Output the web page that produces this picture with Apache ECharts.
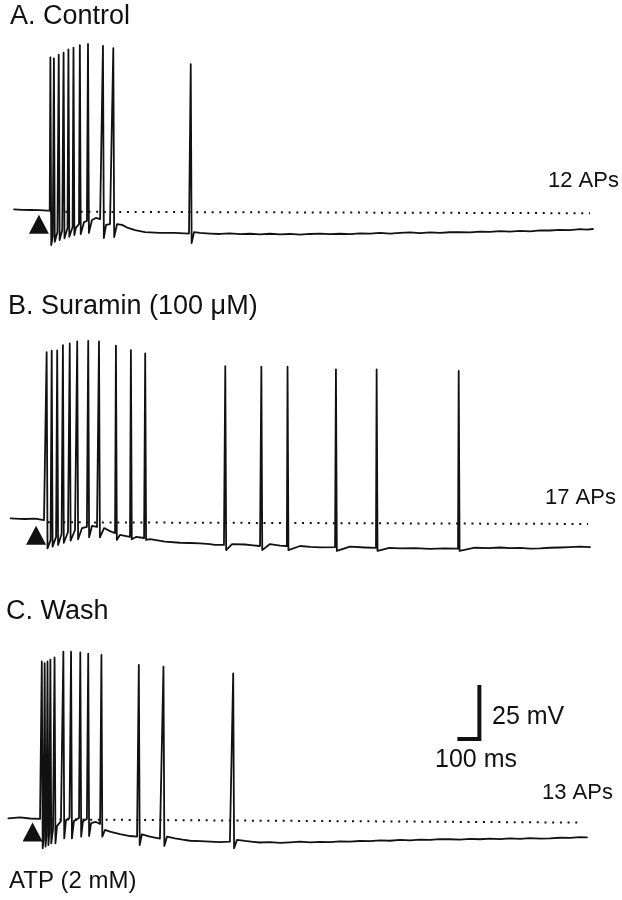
<!DOCTYPE html>
<html>
<head>
<meta charset="utf-8">
<script src="https://cdn.jsdelivr.net/npm/echarts@6/dist/echarts.min.js"></script>
<style>
html,body{margin:0;padding:0;background:#fff;}
#chart{width:622px;height:900px;}
</style>
</head>
<body>
<div id="chart"></div>
<script>
// ---------- DATA (time in ms, membrane potential in mV) ----------
const panelTitles = ['A. Control', 'B. Suramin (100 \u03bcM)', 'C. Wash'];
const apCountLabels = ['12 APs', '17 APs', '13 APs'];
const stimulusLabel = 'ATP (2 mM)';
const scaleBarLabels = ['25 mV', '100 ms'];

// Panel A
const spikeTimesA = [229, 245, 267, 289, 311, 334, 363, 400, 468, 515, 867];
const spikePeaksA = [10.7, 10.2, 11.9, 12.9, 14.4, 15.2, 16.3, 16.9, 16.0, 14.9, 7.5];
const spikeTroughsA = [-76.2, -74.7, -73.9, -73.1, -72.4, -71.6, -71.1, -70.6, -73.0, -72.5, -75.3];
const baseA = [
  [64, -59.7], [100, -59.9], [140, -60.0], [180, -60.1], [215, -60.3], [226, -60.3],
  [240, -72.0], [261, -70.2], [283, -69.3], [307, -68.3], [330, -67.9], [345, -68.3], [359, -66.5],
  [382, -65.6], [395, -65.1], [418, -64.6], [436, -63.7], [455, -64.2], [464, -64.6],
  [482, -66.9], [500, -66.5], [509, -66.5], [532, -66.5], [555, -66.9], [582, -68.3], [614, -69.3],
  [659, -70.2], [727, -70.6], [795, -70.6], [859, -70.9], [882, -70.2],
  [909, -70.6], [955, -70.9], [1000, -71.1], [1045, -70.8], [1091, -71.2], [1136, -71.0], [1182, -71.3],
  [1227, -71.0], [1273, -71.3], [1318, -71.1], [1364, -71.4], [1409, -71.1], [1455, -70.9], [1500, -71.2],
  [1545, -71.0], [1591, -71.2], [1636, -70.8], [1682, -70.9], [1727, -70.6], [1773, -70.9], [1818, -70.6],
  [1864, -70.4], [1909, -70.7], [1955, -70.4], [2000, -70.6], [2045, -70.3], [2091, -70.2], [2136, -70.4],
  [2182, -70.0], [2227, -70.1], [2273, -69.8], [2318, -70.0], [2364, -69.7], [2409, -69.9], [2455, -69.4],
  [2500, -69.5], [2545, -69.2], [2591, -69.3], [2636, -68.9], [2668, -69.1], [2695, -68.8]
];
const restLineA = [[227, -60.8], [2682, -61.5]];
const stimA = [[177, -66.6]];

// Panel B
const spikeTimesB = [212, 235, 260, 286, 317, 351, 401, 450, 527, 595, 660, 1024, 1188, 1307, 1527, 1712, 2085];
const spikePeaksB = [17.3, 17.9, 18.1, 20.5, 21.3, 22.2, 22.5, 22.2, 20.3, 18.2, 16.7, 10.8, 10.5, 10.5, 9.3, 9.3, 8.6];
const spikeTroughsB = [-73.6, -72.8, -72.0, -71.0, -70.0, -69.4, -68.5, -68.5, -69.7, -69.4, -69.7, -74.4, -74.4, -74.4, -74.8, -74.8, -74.8];
const baseB = [
  [49, -59.7], [90, -59.9], [114, -60.0], [159, -59.8], [200, -60.5], [209, -60.4],
  [230, -69.7], [255, -68.3], [280, -66.9], [309, -66.0], [341, -65.1], [373, -64.2], [395, -63.7],
  [418, -63.2], [441, -63.7], [473, -64.2], [500, -65.6], [523, -66.5], [545, -67.4], [573, -67.9],
  [591, -68.3], [618, -68.3], [655, -68.8], [682, -69.3], [750, -70.5], [818, -71.0], [864, -71.1],
  [909, -71.3], [955, -71.6], [977, -72.0], [1018, -72.0], [1055, -71.6], [1114, -71.8], [1150, -72.2],
  [1182, -72.5], [1227, -71.6], [1273, -72.3], [1304, -72.5], [1364, -72.5], [1410, -72.9], [1455, -73.1],
  [1523, -73.0], [1591, -72.8], [1659, -73.2], [1709, -73.4], [1770, -73.4], [1818, -73.6], [1886, -73.5],
  [1955, -73.8], [2020, -73.6], [2082, -73.7], [2159, -73.3], [2220, -73.5], [2273, -73.2], [2320, -73.5],
  [2364, -73.4], [2410, -73.7], [2455, -73.6], [2500, -73.3], [2545, -73.2], [2590, -73.0], [2636, -72.8],
  [2682, -73.0]
];
const restLineB = [[218, -61.5], [2673, -62.3]];
const stimB = [[164, -67.5]];

// Panel C
const spikeTimesC = [190, 203, 216, 229, 248, 288, 323, 365, 401, 461, 631, 743, 1060];
const spikePeaksC = [12.6, 11.8, 12.6, 13.4, 14.5, 17.1, 17.1, 16.8, 16.2, 15.6, 11.0, 10.2, 7.1];
const spikeTroughsC = [-73.9, -73.1, -72.4, -71.6, -71.6, -69.3, -69.3, -68.5, -68.2, -68.5, -72.4, -72.8, -73.9];
const baseC = [
  [38, -60.0], [91, -59.6], [136, -60.1], [182, -60.3], [187, -60.3],
  [198, -70.0], [211, -68.2], [224, -66.8], [241, -65.0], [259, -63.6], [277, -61.3],
  [300, -60.8], [316, -59.9], [336, -61.3], [359, -59.9], [377, -61.3], [395, -60.3],
  [414, -62.2], [436, -61.7], [455, -62.6], [477, -65.4], [500, -66.2], [545, -67.3], [591, -68.2],
  [623, -68.5], [645, -67.4], [682, -68.5], [727, -69.4], [759, -68.5], [795, -69.3], [830, -69.9],
  [864, -70.4], [910, -70.6], [955, -70.8], [1000, -71.0], [1045, -70.8], [1077, -70.0], [1114, -70.5],
  [1150, -70.9], [1182, -71.2], [1227, -71.0], [1273, -71.4], [1318, -71.1], [1364, -70.8], [1410, -71.1],
  [1455, -70.9], [1500, -71.0], [1545, -70.7], [1591, -70.8], [1636, -70.5], [1682, -70.6], [1727, -70.2],
  [1773, -70.4], [1818, -70.0], [1864, -70.2], [1909, -69.9], [1955, -70.0], [2000, -69.6], [2045, -69.7],
  [2091, -69.9], [2136, -69.5], [2182, -69.7], [2227, -69.4], [2273, -69.6], [2318, -69.3], [2364, -69.5],
  [2409, -69.2], [2455, -69.4], [2500, -69.3], [2545, -69.0], [2591, -69.1], [2636, -68.7], [2668, -68.8]
];
const restLineC = [[200, -60.5], [2650, -62.0]];
const stimC = [[148, -66.3]];

// Scale bar (in panel C): 100 ms x 25 mV
const scaleBarMs = [2079, 2179, 2179];
const scaleBarMv = [-23.3, -23.3, 1.7];

// ---------- BUILD ----------
const SPIKE_FALL_MS = 4;
function buildTrace(base, times, peaks, troughs) {
  const pts = base.map(p => [p[0], p[1]]);
  times.forEach((t, i) => {
    pts.push([t, peaks[i]]);
    pts.push([t + SPIKE_FALL_MS, troughs[i]]);
  });
  pts.sort((a, b) => a[0] - b[0]);
  return pts;
}

const traces = [
  buildTrace(baseA, spikeTimesA, spikePeaksA, spikeTroughsA),
  buildTrace(baseB, spikeTimesB, spikePeaksB, spikeTroughsB),
  buildTrace(baseC, spikeTimesC, spikePeaksC, spikeTroughsC)
];
const restLines = [restLineA, restLineB, restLineC];
const stims = [stimA, stimB, stimC];

const gridTops = [15.6, 324.6, 623.9];
const INK = '#111';
const FONT = "'Liberation Sans', Arial, Helvetica, sans-serif";

const grids = gridTops.map(t => ({left: 0, top: t, width: 616, height: 237.6, containLabel: false}));
const xAxes = gridTops.map((t, i) => ({type: 'value', gridIndex: i, min: 0, max: 2800, show: false, splitLine: {show: false}}));
const yAxes = gridTops.map((t, i) => ({type: 'value', gridIndex: i, min: -80, max: 30, show: false, splitLine: {show: false}}));

const series = [];
for (let i = 0; i < 3; i++) {
  series.push({
    type: 'line', xAxisIndex: i, yAxisIndex: i, data: restLines[i], symbol: 'none', silent: true,
    lineStyle: {color: INK, width: 2, type: [2, 5.7]}, z: 1
  });
  series.push({
    type: 'line', xAxisIndex: i, yAxisIndex: i, data: traces[i], symbol: 'none', silent: true,
    lineStyle: {color: INK, width: 1.8, join: 'round', cap: 'round'}, z: 3
  });
  series.push({
    type: 'scatter', xAxisIndex: i, yAxisIndex: i, data: stims[i], symbol: 'triangle',
    symbolSize: [20, 19], itemStyle: {color: INK, opacity: 1}, silent: true, z: 2
  });
}
series.push({
  type: 'line', xAxisIndex: 2, yAxisIndex: 2,
  data: scaleBarMs.map((x, k) => [x, scaleBarMv[k]]),
  symbol: 'none', silent: true, lineStyle: {color: INK, width: 4, join: 'miter', cap: 'butt'}, z: 4
});

function txt(text, x, y, size) {
  return {type: 'text', x: x, y: y, silent: true,
    style: {text: text, font: size + 'px ' + FONT, fill: INK, align: 'left', verticalAlign: 'middle'}};
}

const graphic = [
  txt(panelTitles[0], 10, 16.3, 27),
  txt(panelTitles[1], 8, 307, 27),
  txt(panelTitles[2], 6, 612, 27),
  txt(apCountLabels[0], 548, 181.3, 22),
  txt(apCountLabels[1], 545, 498.3, 22),
  txt(apCountLabels[2], 542, 793, 22),
  txt(scaleBarLabels[0], 492, 717.3, 25),
  txt(scaleBarLabels[1], 435, 760.5, 25),
  txt(stimulusLabel, 9, 881, 24)
];

const chart = echarts.init(document.getElementById('chart'), null, {renderer: 'canvas'});
chart.setOption({
  animation: false,
  backgroundColor: '#fff',
  grid: grids,
  xAxis: xAxes,
  yAxis: yAxes,
  series: series,
  graphic: graphic
});
</script>
</body>
</html>
